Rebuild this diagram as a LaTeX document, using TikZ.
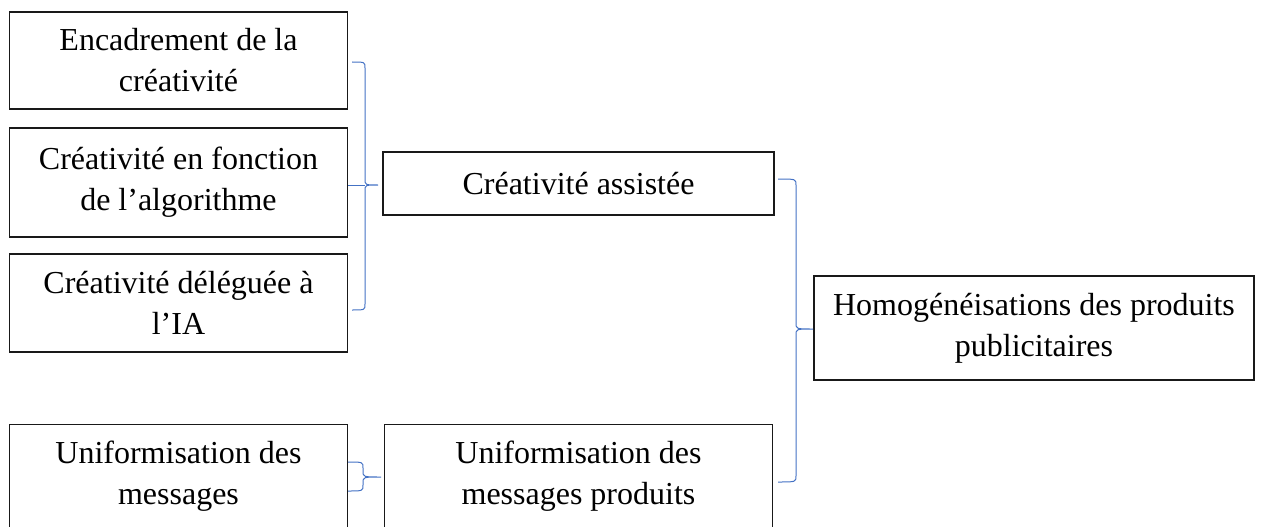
\documentclass[tikz,border=0pt]{standalone}
\usepackage{fontspec}
\setmainfont{Liberation Serif}
\usetikzlibrary{calc}
\definecolor{bracecol}{HTML}{4472C4}
\newcommand\drawbrace[6]{%
  \draw[brace] (#1,#4) .. controls (#2,#4) .. (#2,#4+6) -- (#2,#5-6)
    .. controls (#2,#5) .. (#3,#5) .. controls (#2,#5) .. (#2,#5+6)
    -- (#2,#6-6) .. controls (#2,#6) .. (#1,#6);}
\begin{document}
\begin{tikzpicture}[x=1pt,y=-1pt,
  boxline/.style={line width=1.1pt, draw=black!90},
  box/.style={boxline, draw, align=center, inner sep=0pt,
    font=\fontsize{32}{41}\selectfont},
  opentext/.style={align=center, inner sep=0pt,
    font=\fontsize{32}{41}\selectfont},
  brace/.style={draw=bracecol, line width=1pt}]
\useasboundingbox (0,0) rectangle (1261,527);
\node[box, minimum width=338pt, minimum height=97pt] (b1) at (178.5,60.5) {Encadrement de la\\créativité};
\node[box, minimum width=338pt, minimum height=109pt] (b2) at (178.5,182.5) {Créativité en fonction\\de l’algorithme};
\node[box, minimum width=338pt, minimum height=98pt] (b3) at (178.5,303) {Créativité déléguée à\\l’IA};
\node[box, minimum width=391pt, minimum height=63pt] (ca) at (578.5,183.5) {Créativité assistée};
\node[box, minimum width=440pt, minimum height=104pt] (hp) at (1034,328) {Homogénéisations des produits\\publicitaires};
\node[opentext, minimum width=338pt, minimum height=102pt] (u1) at (178.5,476) {Uniformisation des\\messages};
\node[opentext, minimum width=387pt, minimum height=102pt] (u2) at (578.5,476) {Uniformisation des\\messages produits};
\draw[boxline] (u1.north west) ++(0,120) -- (u1.north west) -- (u1.north east) -- ++(0,120);
\draw[boxline] (u2.north west) ++(0,120) -- (u2.north west) -- (u2.north east) -- ++(0,120);
\coordinate (j1) at (365,185);
\draw[brace] (b2.east |- j1) -- (j1);
\drawbrace{352}{365}{378}{62}{185}{310}
\drawbrace{778}{796}{813}{179}{329}{482}
\drawbrace{348}{363}{381}{462}{477}{491}
\end{tikzpicture}
\end{document}
